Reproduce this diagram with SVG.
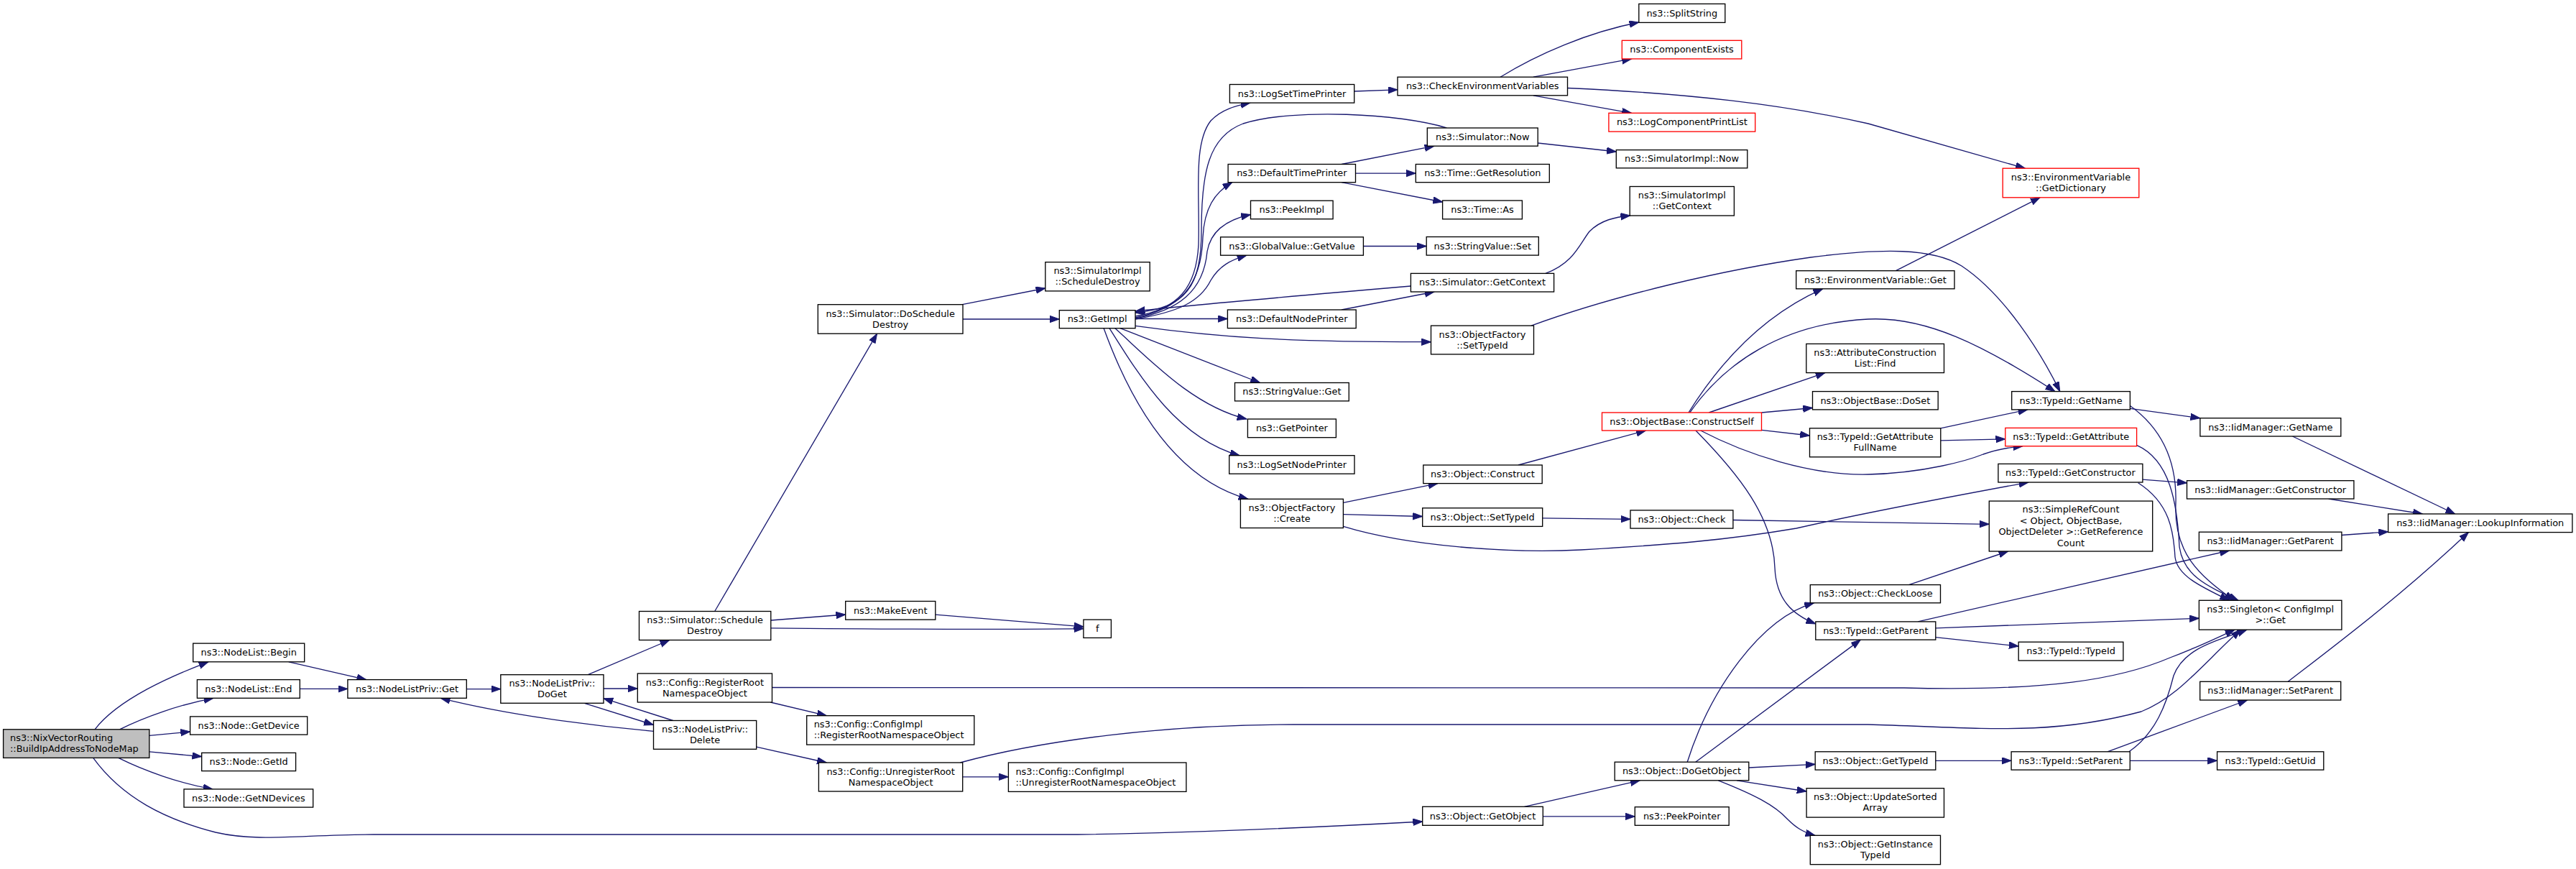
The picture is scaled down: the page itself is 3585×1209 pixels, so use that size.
<svg xmlns="http://www.w3.org/2000/svg" width="3585" height="1209" viewBox="0 0 3585 1209">
<defs>
<style>
.n rect{fill:#fff;stroke:#000;stroke-width:1.33}
.n.red rect{stroke:#ff0000}
.n.root rect{fill:#bfbfbf}
text{font-family:"DejaVu Sans","Liberation Sans",sans-serif;font-size:12.9px;fill:#000;text-anchor:middle}
text.l{text-anchor:start}
#edges path{fill:none;stroke:#191970;stroke-width:1.33;marker-end:url(#arr)}
</style>
<marker id="arr" markerUnits="userSpaceOnUse" markerWidth="15" markerHeight="11" refX="13.3" refY="4.7" orient="auto">
<path d="M0,0 L13.3,4.7 L0,9.4 z" fill="#191970" stroke="#191970" stroke-width="1"/>
</marker>
</defs>
<rect x="0" y="0" width="3585" height="1209" fill="#fff"/>
<g id="edges">
<path d="M132,1014.8 C165,972 240,940 290,920.8"/>
<path d="M166.5,1014.8 C200,998 250,980 297,971.3"/>
<path d="M207.8,1023.3 L264.6,1018"/>
<path d="M207.8,1045.8 L280.7,1052.5"/>
<path d="M164.8,1054.4 C200,1072 250,1090 296,1097.9"/>
<path d="M129.7,1054.4 C170,1110 230,1140 300,1158 C360,1172 420,1161 520,1161 L1500,1161 C1650,1159 1850,1150 1979.7,1143"/>
<path d="M401.8,920.8 L509.8,945.6"/>
<path d="M417.3,958.4 L483.9,958.4"/>
<path d="M649.3,958.6 L696.8,958.6"/>
<path d="M818.3,938.7 L931.7,890.5"/>
<path d="M840,958 L887.3,958"/>
<path d="M813.3,978.3 L909.5,1008.5"/>
<path d="M936.7,1002.5 L840,971.7"/>
<path d="M909.5,1017.3 C850,1012 720,998 613.3,971.3"/>
<path d="M994.7,850.5 L1220.6,464.2"/>
<path d="M1072.8,863 L1176.7,855"/>
<path d="M1072.8,873.8 C1200,875 1400,876 1507.9,874.6"/>
<path d="M1301.8,855.1 L1507.9,871.8"/>
<path d="M1072.2,977 L1150.3,995.7"/>
<path d="M1074.5,956.5 L2650,957 C2850,962 2950,945 3020,915 C3060,900 3090,885 3110,876.1"/>
<path d="M1052.7,1039.2 L1150.3,1061"/>
<path d="M1339.7,1080.8 L1403.4,1080.8"/>
<path d="M1336.3,1061 C1450,1030 1620,1008 1800,1008 L2600,1008 C2750,1012 2850,1025 2980,990 C3030,970 3060,930 3118,876.1"/>
<path d="M1339.2,423.7 L1454.8,401"/>
<path d="M1340,444 L1474.3,444"/>
<path d="M1580,440 C1640,430 1665,400 1668,340 C1670,270 1660,200 1685,168 C1700,152 1720,147 1740,143.1"/>
<path d="M1580,442 C1640,430 1672,400 1674,330 C1676,290 1690,268 1714.8,253.7"/>
<path d="M1580,443 C1640,432 1675,405 1680,350 C1685,320 1710,305 1740.5,298.5"/>
<path d="M1580,444 C1640,434 1670,420 1685,390 C1697,370 1712,362 1735,355.2"/>
<path d="M1580,443.5 L1708.4,443.5"/>
<path d="M1580,453.3 C1700,470 1800,476 1991.5,475.7"/>
<path d="M1559,456.6 L1753.5,532.5"/>
<path d="M1551.6,456.6 C1600,500 1660,565 1735,583"/>
<path d="M1544,456.6 C1590,530 1640,610 1725,633.7"/>
<path d="M1536,456.6 C1570,550 1630,665 1737,694.3"/>
<path d="M2013.3,178 C1950,158 1800,150 1730,172 C1682,190 1672,240 1672,320 C1672,400 1650,428 1580,435"/>
<path d="M1963.4,398 C1800,412 1650,425 1580,433"/>
<path d="M1867,431 L1996,406"/>
<path d="M1867,228.5 L1996,203.2"/>
<path d="M1886.5,241.1 L1970.3,241.1"/>
<path d="M1867,253.7 L2007.6,281"/>
<path d="M1884.7,127 L1945,124.8"/>
<path d="M1897.4,342.5 L1985.2,342.5"/>
<path d="M2140.2,199 L2249.3,211"/>
<path d="M2151,380.4 C2190,366 2198,340 2212,322 C2228,306 2248,302 2268.8,300"/>
<path d="M2088,107.2 C2140,75 2210,45 2280.8,31"/>
<path d="M2133.9,107.2 L2270.5,81.9"/>
<path d="M2133.9,132.8 L2270.5,157.3"/>
<path d="M2181.5,122.5 C2350,130 2480,145 2600,172 C2680,195 2760,218 2818.3,234.2"/>
<path d="M2131,453.1 C2250,410 2400,375 2520,358 C2620,345 2690,345 2730,370 C2790,410 2840,490 2866.8,544.6"/>
<path d="M1869.5,699.4 L2000.9,672.6"/>
<path d="M1869.5,715.7 L1979.7,718.5"/>
<path d="M1869.5,732.4 C1960,760 2100,770 2200,765 C2320,758 2400,752 2500,735 C2600,712 2720,690 2823,671"/>
<path d="M2146.7,720.8 L2269,722.3"/>
<path d="M2411.9,723.5 L2768.3,729.3"/>
<path d="M2112.9,647 L2290.5,599"/>
<path d="M2350,574 C2390,510 2450,440 2536.7,401.8"/>
<path d="M2351.7,574 C2400,505 2480,450 2600,444 C2680,440 2760,480 2859.9,544.6"/>
<path d="M2378.3,574 L2540,518.6"/>
<path d="M2451.7,574 L2522.5,567.5"/>
<path d="M2451.7,598.3 L2518.5,606"/>
<path d="M2366.7,599 C2430,632 2520,662 2600,660 C2680,658 2740,640 2760,632 C2780,625 2800,622 2815,620.7"/>
<path d="M2360,599 C2420,660 2468,720 2470,790 C2472,835 2495,855 2526.8,868"/>
<path d="M2638.4,376.7 L2839.1,274.8"/>
<path d="M2700.7,595.9 L2821.8,569.9"/>
<path d="M2700.8,612.8 L2790.8,610.9"/>
<path d="M2964.4,568.3 L3061.9,581.7"/>
<path d="M2964.4,564.5 C3000,590 3030,630 3028,700 C3025,770 3060,800 3108.8,835.3"/>
<path d="M2973.6,619.4 C3020,640 3030,700 3033,760 C3038,800 3070,815 3115,835.3"/>
<path d="M2981.9,667.2 L3043.5,671.8"/>
<path d="M2975.6,671.8 C3020,700 3025,740 3027,775 C3030,800 3060,815 3102.5,835.3"/>
<path d="M2656.5,813.6 L2794.7,767"/>
<path d="M2669.1,864.9 L3102.5,766"/>
<path d="M2693.8,873.8 L3060.4,860.2"/>
<path d="M2693.8,886.6 L2809.2,899"/>
<path d="M2121.5,1122.3 L2282.2,1085.8"/>
<path d="M2147.3,1135.9 L2275.3,1135.9"/>
<path d="M2348.2,1060.2 C2380,960 2450,860 2524.5,838.8"/>
<path d="M2359.7,1060.2 L2589.3,890.1"/>
<path d="M2433.8,1068 L2526.2,1063.3"/>
<path d="M2417.1,1085.8 L2514.1,1101"/>
<path d="M2391.3,1085.8 C2440,1105 2470,1120 2488,1140 C2500,1152 2510,1158 2526,1162.3"/>
<path d="M2693.8,1058.3 L2799.1,1058.3"/>
<path d="M2932.9,1045.8 L3127.6,974"/>
<path d="M2963,1045.8 C3000,1020 3015,980 3025,940 C3040,900 3090,890 3127,876.1"/>
<path d="M2964.3,1058.3 L3085.6,1058.3"/>
<path d="M3190.5,607 L3416.6,715"/>
<path d="M3240.7,694 L3371.4,715"/>
<path d="M3258.9,744.5 L3323.6,739.8"/>
<path d="M3184.2,948.3 C3260,890 3340,830 3435.4,740.6"/>
</g>
<g id="n_main" class="n root"><rect x="4.6" y="1014.8" width="203.2" height="39.6"/><text class="l" x="14" y="1031.1">ns3::NixVectorRouting</text><text class="l" x="14" y="1046.1">::BuildIpAddressToNodeMap</text></g>
<g id="n_begin" class="n"><rect x="268.7" y="895.1" width="155" height="25.7"/><text x="346.2" y="912.2">ns3::NodeList::Begin</text></g>
<g id="n_end" class="n"><rect x="274.4" y="945.6" width="142.9" height="25.7"/><text x="345.85" y="962.7">ns3::NodeList::End</text></g>
<g id="n_getdevice" class="n"><rect x="264.6" y="996.9" width="163.1" height="25.2"/><text x="346.15" y="1013.7">ns3::Node::GetDevice</text></g>
<g id="n_getid" class="n"><rect x="280.7" y="1047.4" width="130.9" height="25.2"/><text x="346.15" y="1064.2">ns3::Node::GetId</text></g>
<g id="n_getndevices" class="n"><rect x="256" y="1097.9" width="179.7" height="25.2"/><text x="345.85" y="1114.7">ns3::Node::GetNDevices</text></g>
<g id="n_nlpget" class="n"><rect x="483.9" y="945.6" width="165.4" height="25.7"/><text x="566.6" y="962.7">ns3::NodeListPriv::Get</text></g>
<g id="n_doget" class="n"><rect x="696.8" y="938.7" width="143.2" height="39.6"/><text x="768.4" y="955">ns3::NodeListPriv::</text><text x="768.4" y="970">DoGet</text></g>
<g id="n_scheddestroy" class="n"><rect x="889.5" y="850.5" width="183.3" height="40"/><text x="981.15" y="867">ns3::Simulator::Schedule</text><text x="981.15" y="882">Destroy</text></g>
<g id="n_registerroot" class="n"><rect x="887.3" y="937" width="187.2" height="40"/><text x="980.9" y="953.5">ns3::Config::RegisterRoot</text><text x="980.9" y="968.5">NamespaceObject</text></g>
<g id="n_delete" class="n"><rect x="909.5" y="1002.5" width="143.2" height="39.8"/><text x="981.1" y="1018.9">ns3::NodeListPriv::</text><text x="981.1" y="1033.9">Delete</text></g>
<g id="n_ciregister" class="n"><rect x="1122.7" y="995.7" width="233.1" height="40.4"/><text class="l" x="1132.7" y="1012.4">ns3::Config::ConfigImpl</text><text class="l" x="1132.7" y="1027.4">::RegisterRootNamespaceObject</text></g>
<g id="n_unregister" class="n"><rect x="1139.4" y="1061" width="200.3" height="40"/><text x="1239.55" y="1077.5">ns3::Config::UnregisterRoot</text><text x="1239.55" y="1092.5">NamespaceObject</text></g>
<g id="n_ciunregister" class="n"><rect x="1403.4" y="1061" width="247.5" height="40.4"/><text class="l" x="1413.4" y="1077.7">ns3::Config::ConfigImpl</text><text class="l" x="1413.4" y="1092.7">::UnregisterRootNamespaceObject</text></g>
<g id="n_makeevent" class="n"><rect x="1176.7" y="836.5" width="125.1" height="25.6"/><text x="1239.25" y="853.5">ns3::MakeEvent</text></g>
<g id="n_f" class="n"><rect x="1507.9" y="862.1" width="38.5" height="25.3"/><text x="1527.15" y="879">f</text></g>
<g id="n_doscheddestroy" class="n"><rect x="1138.3" y="423.7" width="201.7" height="40.5"/><text x="1239.15" y="440.5">ns3::Simulator::DoSchedule</text><text x="1239.15" y="455.5">Destroy</text></g>
<g id="n_sischeddestroy" class="n"><rect x="1454.8" y="364.7" width="145.4" height="40.2"/><text x="1527.5" y="381.3">ns3::SimulatorImpl</text><text x="1527.5" y="396.3">::ScheduleDestroy</text></g>
<g id="n_getimpl" class="n"><rect x="1474.3" y="431.7" width="105.7" height="25"/><text x="1527.15" y="448.4">ns3::GetImpl</text></g>
<g id="n_logsettimeprinter" class="n"><rect x="1711.4" y="117.5" width="173.3" height="25.6"/><text x="1798.05" y="134.5">ns3::LogSetTimePrinter</text></g>
<g id="n_defaulttimeprinter" class="n"><rect x="1709.1" y="228.5" width="177.4" height="25.2"/><text x="1797.8" y="245.3">ns3::DefaultTimePrinter</text></g>
<g id="n_peekimpl" class="n"><rect x="1740.5" y="279.2" width="114.6" height="25.5"/><text x="1797.8" y="296.2">ns3::PeekImpl</text></g>
<g id="n_globalvalue" class="n"><rect x="1698.6" y="329.8" width="198.8" height="25.4"/><text x="1798" y="346.7">ns3::GlobalValue::GetValue</text></g>
<g id="n_defaultnodeprinter" class="n"><rect x="1708.4" y="431" width="178.8" height="25.6"/><text x="1797.8" y="448">ns3::DefaultNodePrinter</text></g>
<g id="n_stringvalueget" class="n"><rect x="1718.5" y="532.5" width="158.8" height="25.4"/><text x="1797.9" y="549.4">ns3::StringValue::Get</text></g>
<g id="n_getpointer" class="n"><rect x="1736.4" y="583" width="123" height="25.7"/><text x="1797.9" y="600.1">ns3::GetPointer</text></g>
<g id="n_logsetnodeprinter" class="n"><rect x="1710.7" y="633.7" width="174.3" height="25.5"/><text x="1797.85" y="650.7">ns3::LogSetNodePrinter</text></g>
<g id="n_create" class="n"><rect x="1726.4" y="694.3" width="143" height="40.2"/><text x="1797.9" y="710.9">ns3::ObjectFactory</text><text x="1797.9" y="725.9">::Create</text></g>
<g id="n_checkenv" class="n"><rect x="1945" y="107.2" width="236.5" height="25.6"/><text x="2063.25" y="124.2">ns3::CheckEnvironmentVariables</text></g>
<g id="n_simnow" class="n"><rect x="1986.3" y="178" width="153.9" height="25.2"/><text x="2063.25" y="194.8">ns3::Simulator::Now</text></g>
<g id="n_getresolution" class="n"><rect x="1970.3" y="228.5" width="186" height="25.2"/><text x="2063.3" y="245.3">ns3::Time::GetResolution</text></g>
<g id="n_timeas" class="n"><rect x="2007.6" y="279" width="110.8" height="25.8"/><text x="2063" y="296.1">ns3::Time::As</text></g>
<g id="n_stringvalueset" class="n"><rect x="1985.2" y="329.5" width="156.1" height="25.6"/><text x="2063.25" y="346.5">ns3::StringValue::Set</text></g>
<g id="n_simgetcontext" class="n"><rect x="1963.4" y="380.4" width="199.2" height="25.6"/><text x="2063" y="397.4">ns3::Simulator::GetContext</text></g>
<g id="n_ofsettypeid" class="n"><rect x="1991.5" y="453.1" width="143" height="39.8"/><text x="2063" y="469.5">ns3::ObjectFactory</text><text x="2063" y="484.5">::SetTypeId</text></g>
<g id="n_splitstring" class="n"><rect x="2280.8" y="5.4" width="120" height="26"/><text x="2340.8" y="22.6">ns3::SplitString</text></g>
<g id="n_componentexists" class="n red"><rect x="2257.3" y="56.3" width="166.5" height="25.6"/><text x="2340.55" y="73.3">ns3::ComponentExists</text></g>
<g id="n_logcomponentprintlist" class="n red"><rect x="2238.9" y="157.3" width="203.8" height="25.8"/><text x="2340.8" y="174.4">ns3::LogComponentPrintList</text></g>
<g id="n_simimplnow" class="n"><rect x="2249.3" y="208.6" width="182.5" height="25.2"/><text x="2340.55" y="225.4">ns3::SimulatorImpl::Now</text></g>
<g id="n_simimplgetcontext" class="n"><rect x="2268.2" y="259.5" width="145.2" height="40.5"/><text x="2340.8" y="276.2">ns3::SimulatorImpl</text><text x="2340.8" y="291.2">::GetContext</text></g>
<g id="n_constructself" class="n red"><rect x="2229.5" y="574" width="222" height="25"/><text x="2340.5" y="590.7">ns3::ObjectBase::ConstructSelf</text></g>
<g id="n_objconstruct" class="n"><rect x="1980.8" y="647" width="165.4" height="25.6"/><text x="2063.5" y="664">ns3::Object::Construct</text></g>
<g id="n_objsettypeid" class="n"><rect x="1979.7" y="706.8" width="167" height="25.6"/><text x="2063.2" y="723.8">ns3::Object::SetTypeId</text></g>
<g id="n_objcheck" class="n"><rect x="2269" y="709.9" width="142.9" height="25.2"/><text x="2340.45" y="726.7">ns3::Object::Check</text></g>
<g id="n_getobject" class="n"><rect x="1979.7" y="1122.3" width="167.6" height="26"/><text x="2063.5" y="1139.5">ns3::Object::GetObject</text></g>
<g id="n_dogetobject" class="n"><rect x="2247.2" y="1060.2" width="186.6" height="25.6"/><text x="2340.5" y="1077.2">ns3::Object::DoGetObject</text></g>
<g id="n_peekpointer" class="n"><rect x="2275.3" y="1122.7" width="130.9" height="25.6"/><text x="2340.75" y="1139.7">ns3::PeekPointer</text></g>
<g id="n_getdictionary" class="n red"><rect x="2787.2" y="234.2" width="189.6" height="40.6"/><text x="2882" y="251">ns3::EnvironmentVariable</text><text x="2882" y="266">::GetDictionary</text></g>
<g id="n_envget" class="n"><rect x="2499.7" y="376.7" width="220.3" height="25.1"/><text x="2609.85" y="393.5">ns3::EnvironmentVariable::Get</text></g>
<g id="n_attrfind" class="n"><rect x="2513.8" y="478.4" width="191.7" height="40.2"/><text x="2609.65" y="495">ns3::AttributeConstruction</text><text x="2609.65" y="510">List::Find</text></g>
<g id="n_doset" class="n"><rect x="2522.5" y="544.6" width="174.7" height="25.3"/><text x="2609.85" y="561.5">ns3::ObjectBase::DoSet</text></g>
<g id="n_getattrfullname" class="n"><rect x="2518.5" y="595.8" width="182.3" height="40"/><text x="2609.65" y="612.3">ns3::TypeId::GetAttribute</text><text x="2609.65" y="627.3">FullName</text></g>
<g id="n_checkloose" class="n"><rect x="2519.3" y="813.6" width="181.2" height="25.2"/><text x="2609.9" y="830.4">ns3::Object::CheckLoose</text></g>
<g id="n_getparent" class="n"><rect x="2526.8" y="864.9" width="167" height="25.2"/><text x="2610.3" y="881.7">ns3::TypeId::GetParent</text></g>
<g id="n_objgettypeid" class="n"><rect x="2526.2" y="1045.8" width="167.6" height="25.3"/><text x="2610" y="1062.7">ns3::Object::GetTypeId</text></g>
<g id="n_updatesorted" class="n"><rect x="2514.1" y="1096.7" width="191.4" height="40.4"/><text x="2609.8" y="1113.4">ns3::Object::UpdateSorted</text><text x="2609.8" y="1128.4">Array</text></g>
<g id="n_getinstancetypeid" class="n"><rect x="2519.3" y="1162.3" width="181.2" height="40.4"/><text x="2609.9" y="1179">ns3::Object::GetInstance</text><text x="2609.9" y="1194">TypeId</text></g>
<g id="n_getname" class="n"><rect x="2799.7" y="544.6" width="164.7" height="25.3"/><text x="2882.05" y="561.5">ns3::TypeId::GetName</text></g>
<g id="n_getattribute" class="n red"><rect x="2790.8" y="595.4" width="182.8" height="25.3"/><text x="2882.2" y="612.3">ns3::TypeId::GetAttribute</text></g>
<g id="n_getconstructor" class="n"><rect x="2780.9" y="645.4" width="201" height="25.6"/><text x="2881.4" y="662.4">ns3::TypeId::GetConstructor</text></g>
<g id="n_simplerefcount" class="n"><rect x="2768.3" y="697.1" width="227.4" height="69.9"/><text x="2882" y="713">ns3::SimpleRefCount</text><text x="2882" y="728.5">&lt; Object, ObjectBase,</text><text x="2882" y="744">ObjectDeleter &gt;::GetReference</text><text x="2882" y="759.5">Count</text></g>
<g id="n_typeidtypeid" class="n"><rect x="2809.2" y="893.2" width="145.7" height="25.8"/><text x="2882.05" y="910.3">ns3::TypeId::TypeId</text></g>
<g id="n_setparent" class="n"><rect x="2799.1" y="1045.8" width="165.2" height="25.3"/><text x="2881.7" y="1062.7">ns3::TypeId::SetParent</text></g>
<g id="n_iidgetname" class="n"><rect x="3061.9" y="581.7" width="195.9" height="25.3"/><text x="3159.85" y="598.6">ns3::IidManager::GetName</text></g>
<g id="n_iidgetconstructor" class="n"><rect x="3043.5" y="668.7" width="232.4" height="25.3"/><text x="3159.7" y="685.6">ns3::IidManager::GetConstructor</text></g>
<g id="n_iidgetparent" class="n"><rect x="3060.4" y="740.2" width="198.5" height="25.8"/><text x="3159.65" y="757.3">ns3::IidManager::GetParent</text></g>
<g id="n_singleton" class="n"><rect x="3060.4" y="835.3" width="198.5" height="40.8"/><text x="3159.65" y="852.2">ns3::Singleton&lt; ConfigImpl</text><text x="3159.65" y="867.2">&gt;::Get</text></g>
<g id="n_iidsetparent" class="n"><rect x="3061.7" y="948.3" width="196" height="25.7"/><text x="3159.7" y="965.4">ns3::IidManager::SetParent</text></g>
<g id="n_getuid" class="n"><rect x="3085.6" y="1045.8" width="148.2" height="25.3"/><text x="3159.7" y="1062.7">ns3::TypeId::GetUid</text></g>
<g id="n_lookup" class="n"><rect x="3323.6" y="715" width="256.3" height="25.6"/><text x="3451.75" y="732">ns3::IidManager::LookupInformation</text></g>
</svg>
